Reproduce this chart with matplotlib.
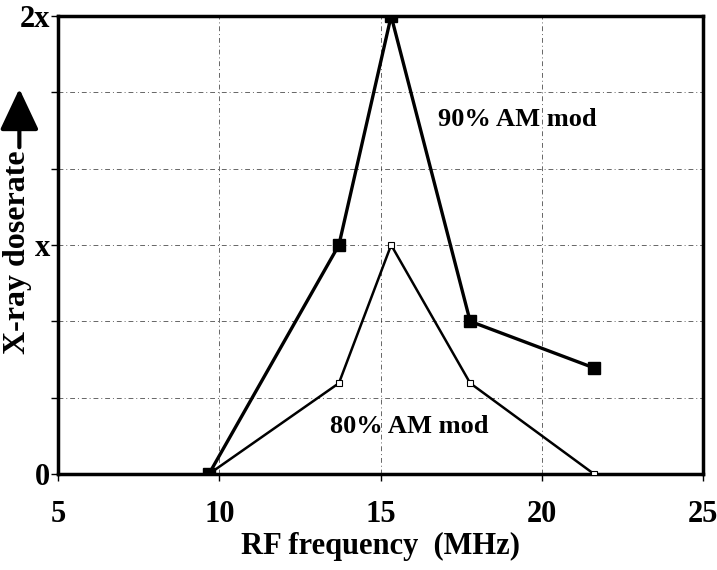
import matplotlib
matplotlib.use('Agg')
import matplotlib.pyplot as plt

plt.rcParams['font.family'] = ['Liberation Serif', 'DejaVu Serif']
plt.rcParams['font.weight'] = 'bold'

freq = [9.68, 13.71, 15.33, 17.78, 21.62]
dose_90 = [0, 3, 6, 2.0, 1.39]
dose_80 = [0, 1.19, 3, 1.19, 0]
y_labels = ['0', '', '', 'x', '', '', '2x']
x_ticks = [5, 10, 15, 20, 25]

fig = plt.figure(figsize=(7.17, 5.7), dpi=100)
ax = fig.add_axes([0.0809, 0.1684, 0.8996, 0.8035])

ax.plot(freq, dose_80, color='black', lw=1.8, marker='s', ms=5,
        mfc='white', mec='black', mew=0.8, zorder=3)
ax.plot(freq, dose_90, color='black', lw=2.4, marker='s', ms=8,
        mfc='black', mec='black', zorder=4)

ax.set_xlim(5, 25)
ax.set_ylim(0, 6)
ax.set_xticks(x_ticks)
ax.set_yticks(range(7))
ax.set_yticklabels(y_labels)
ax.tick_params(axis='both', labelsize=22, direction='out', length=5, width=1)
ax.tick_params(axis='x', pad=14)
ax.tick_params(axis='y', pad=1)
for lab in ax.get_xticklabels() + ax.get_yticklabels():
    lab.set_fontweight('bold')

ax.grid(True, color='black', lw=0.7, linestyle=(0, (5, 3, 1, 3)), alpha=0.6)
for s in ax.spines.values():
    s.set_linewidth(2.5)

ax.set_xlabel('RF frequency  (MHz)', fontsize=22, fontweight='bold', labelpad=2)

ax.text(16.78, 4.64, '90% AM mod', fontsize=19, fontweight='bold', va='center', ha='left')
ax.text(13.43, 0.62, '80% AM mod', fontsize=19, fontweight='bold', va='center', ha='left')

fig.text(0.024, (570 - 252) / 570, 'X-ray doserate', rotation=90, fontsize=23,
         fontweight='bold', ha='center', va='center')
fig.add_artist(matplotlib.patches.FancyArrowPatch(
    (0.027, (570 - 150) / 570), (0.027, (570 - 86) / 570),
    transform=fig.transFigure, arrowstyle='-|>,head_length=0.85,head_width=0.4',
    mutation_scale=30, lw=3, color='black'))

fig.savefig('out.png', dpi=100)
